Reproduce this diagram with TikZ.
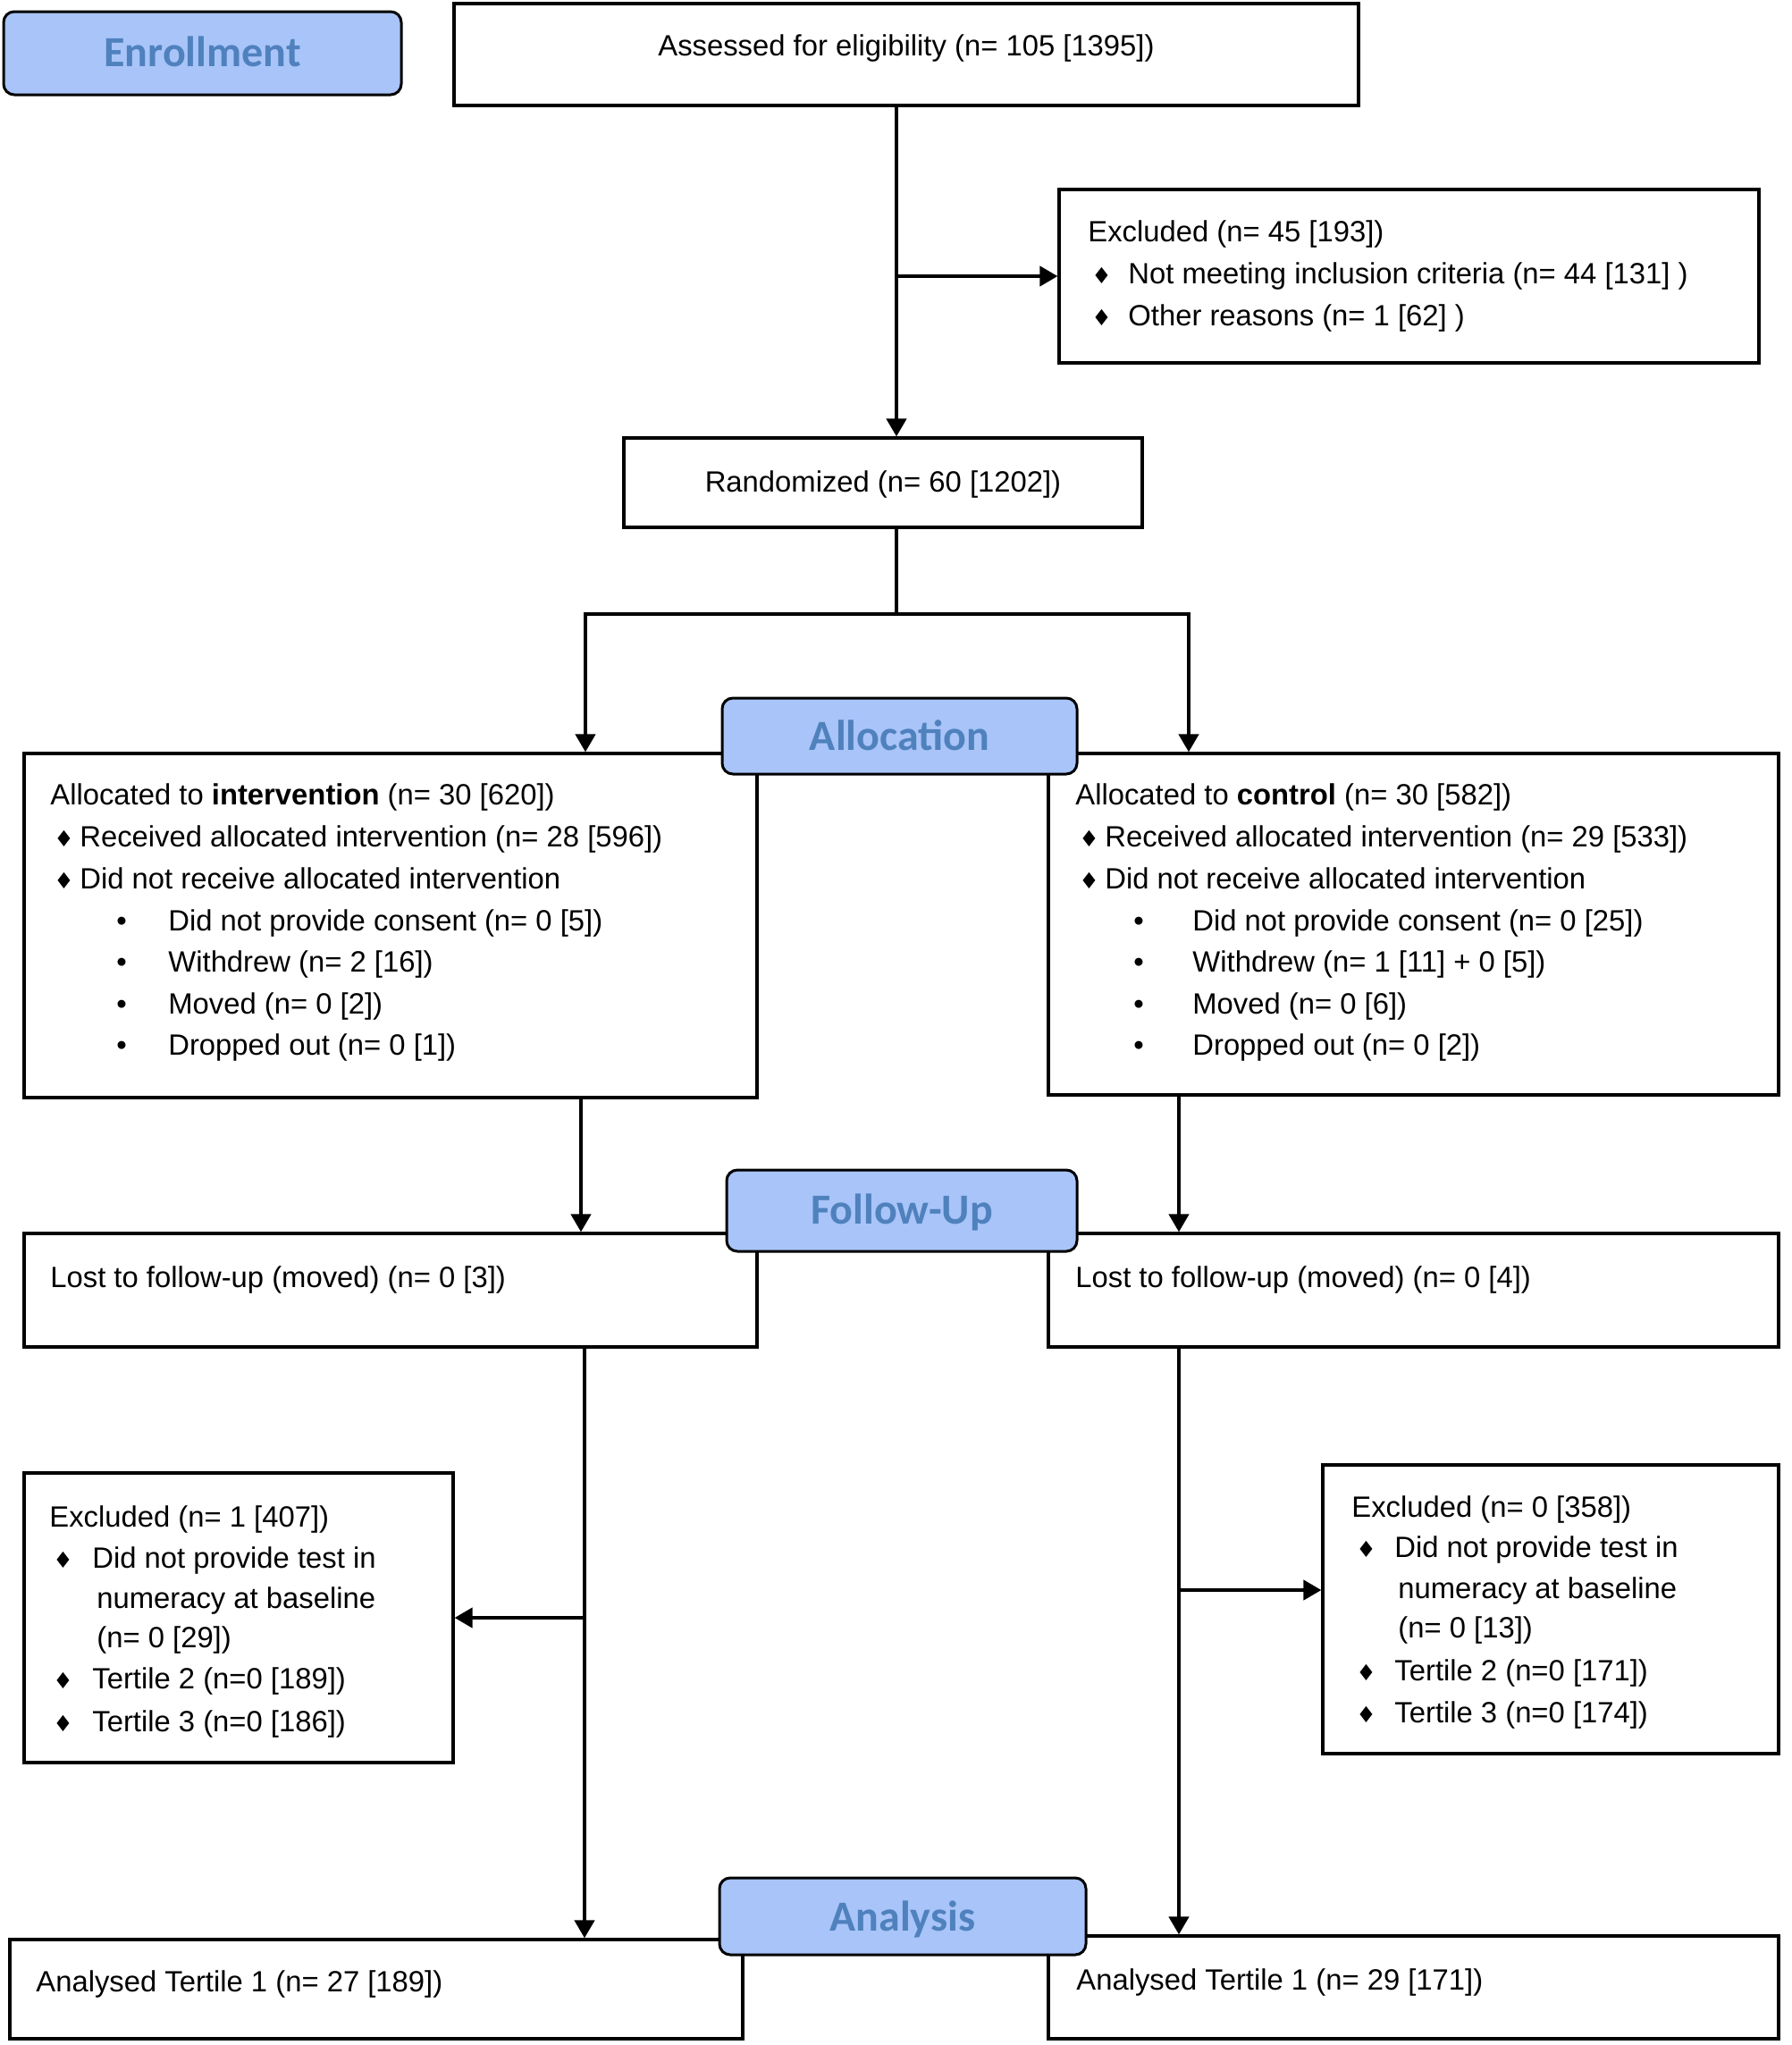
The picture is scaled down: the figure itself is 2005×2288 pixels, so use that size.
\documentclass[tikz,border=0pt]{standalone}
\usepackage{fontspec}
\setmainfont{Liberation Sans}
\newfontfamily\labfont{Carlito}
\newfontfamily\symfont{DejaVu Sans}
\usetikzlibrary{arrows.meta,fit,calc}
\definecolor{labfill}{RGB}{168,196,248}
\definecolor{labtext}{RGB}{79,129,189}
\newcommand\dia{{\symfont\fontsize{12.5}{12.5}\selectfont\char"2666}}
\newcommand\dotb{\char"2022}
\newcommand\dl[2]{\makebox[#1][l]{\dia}#2}
\newcommand\bl[2]{\makebox[#1][l]{\dotb}#2}
\tikzset{
  box/.style={draw=black, line width=1.6pt, inner sep=0pt, fill=white},
  lab/.style={draw=black, line width=1.5pt, rounded corners=6pt, fill=labfill, inner sep=0pt},
  labt/.style={anchor=base, inner sep=0pt, text=labtext, font=\labfont\bfseries\fontsize{24}{28}\selectfont},
  txt/.style={anchor=base west, inner sep=0pt, font=\fontsize{16.4}{20}\selectfont},
  ctxt/.style={anchor=base, inner sep=0pt, font=\fontsize{16.4}{20}\selectfont},
  ln/.style={line width=2.1pt},
  arr/.style={line width=2.1pt, -{Triangle[length=10pt,width=11pt]}},
}
\begin{document}
\begin{tikzpicture}[x=0.5pt,y=-0.5pt]
\useasboundingbox (0,0) rectangle (2005,2288);
% boxes
\node[box, fit={(508,4)(1520,118)}] (assess) {};
\node[box, fit={(1185,212)(1968,406)}] (excl1) {};
\node[box, fit={(698,490)(1278,590)}] (rand) {};
\node[box, fit={(27,843)(847,1228)}] (allocI) {};
\node[box, fit={(1173,843)(1990,1225)}] (allocC) {};
\node[box, fit={(27,1380)(847,1507)}] (fuI) {};
\node[box, fit={(1173,1380)(1990,1507)}] (fuC) {};
\node[box, fit={(27,1648)(507,1972)}] (exclI) {};
\node[box, fit={(1480,1639)(1990,1962)}] (exclC) {};
\node[box, fit={(11,2170)(831,2281)}] (anaI) {};
\node[box, fit={(1173,2166)(1990,2281)}] (anaC) {};
% connectors
\coordinate (xm) at (1003,0);
\coordinate (split) at (1003,687);
\coordinate (lI) at (655,0);
\coordinate (lC) at (1330,0);
\coordinate (vI) at (650,0);
\coordinate (vC) at (1319,0);
\coordinate (wI) at (654,0);
\coordinate (bC) at (1319,1779);
\draw[arr] (assess.south -| xm) -- (rand.north -| xm);
\draw[arr] (excl1.west -| xm) -- (excl1.west);
\draw[ln] (rand.south -| xm) -- (split);
\draw[arr] (split) -| (allocI.north -| lI);
\draw[arr] (split) -| (allocC.north -| lC);
\draw[arr] (allocI.south -| vI) -- (fuI.north -| vI);
\draw[arr] (allocC.south -| vC) -- (fuC.north -| vC);
\draw[arr] (fuI.south -| wI) -- (anaI.north -| wI);
\draw[arr] (fuC.south -| vC) -- (anaC.north -| vC);
\draw[arr] (exclI.east -| wI) -- (exclI.east);
\draw[arr] (bC) -- (exclC.west |- bC);
% phase labels
\node[lab, fit={(4,13)(449,106)}] (enroll) {};
\node[lab, fit={(808,781)(1205,866)}] (labAlloc) {};
\node[lab, fit={(813,1309)(1205,1400)}] (labFU) {};
\node[lab, fit={(805,2101)(1215,2187)}] (labAna) {};
\node[labt] (tEnroll) at ($(enroll.center)+(0,15)$) {Enrollment};
\node[labt] (tAlloc) at ($(labAlloc.center)+(0,16)$) {Allocation};
\node[labt] (tFU) at ($(labFU.center)+(0,15)$) {Follow-Up};
\node[labt] (tAna) at ($(labAna.center)+(0,16)$) {Analysis};
% texts
\node[ctxt] (tAssess) at (1014,62) {Assessed for eligibility (n= 105 [1395])};
\node[txt] (tEx1) at (1217,270) {Excluded (n= 45 [193])};
\node[txt] (tEx2) at (1221,317) {\dl{20.5pt}{Not meeting inclusion criteria (n= 44 [131] )}};
\node[txt] (tEx3) at (1221,364) {\dl{20.5pt}{Other reasons (n= 1 [62] )}};
\node[ctxt] (tRand) at (988,550) {Randomized (n= 60 [1202])};
% allocation intervention
\node[txt] (tI1) at (56,900) {Allocated to \textbf{intervention} (n= 30 [620])};
\node[txt] (tI2) at (60,947) {\dl{14.5pt}{Received allocated intervention (n= 28 [596])}};
\node[txt] (tI3) at (60,994) {\dl{14.5pt}{Did not receive allocated intervention}};
\node[txt] (tI4) at (130,1041) {\bl{29pt}{Did not provide consent (n= 0 [5])}};
\node[txt] (tI5) at (130,1087) {\bl{29pt}{Withdrew (n= 2 [16])}};
\node[txt] (tI6) at (130,1134) {\bl{29pt}{Moved (n= 0 [2])}};
\node[txt] (tI7) at (130,1180) {\bl{29pt}{Dropped out (n= 0 [1])}};
% allocation control
\node[txt] (tC1) at (1203,900) {Allocated to \textbf{control} (n= 30 [582])};
\node[txt] (tC2) at (1207,947) {\dl{14.5pt}{Received allocated intervention (n= 29 [533])}};
\node[txt] (tC3) at (1207,994) {\dl{14.5pt}{Did not receive allocated intervention}};
\node[txt] (tC4) at (1268,1041) {\bl{33pt}{Did not provide consent (n= 0 [25])}};
\node[txt] (tC5) at (1268,1087) {\bl{33pt}{Withdrew (n= 1 [11] + 0 [5])}};
\node[txt] (tC6) at (1268,1134) {\bl{33pt}{Moved (n= 0 [6])}};
\node[txt] (tC7) at (1268,1180) {\bl{33pt}{Dropped out (n= 0 [2])}};
% follow-up
\node[txt] (tF1) at (56,1440) {Lost to follow-up (moved) (n= 0 [3])};
\node[txt] (tF2) at (1203,1440) {Lost to follow-up (moved) (n= 0 [4])};
% excluded intervention
\node[txt] (tX1) at (55,1708) {Excluded (n= 1 [407])};
\node[txt] (tX2) at (59,1754) {\dl{22pt}{Did not provide test in}};
\node[txt] (tX3) at (108,1799) {numeracy at baseline};
\node[txt] (tX4) at (108,1843) {(n= 0 [29])};
\node[txt] (tX5) at (59,1889) {\dl{22pt}{Tertile 2 (n=0 [189])}};
\node[txt] (tX6) at (59,1937) {\dl{22pt}{Tertile 3 (n=0 [186])}};
% excluded control
\node[txt] (tY1) at (1512,1697) {Excluded (n= 0 [358])};
\node[txt] (tY2) at (1517,1742) {\dl{21.5pt}{Did not provide test in}};
\node[txt] (tY3) at (1564,1788) {numeracy at baseline};
\node[txt] (tY4) at (1564,1832) {(n= 0 [13])};
\node[txt] (tY5) at (1517,1880) {\dl{21.5pt}{Tertile 2 (n=0 [171])}};
\node[txt] (tY6) at (1517,1927) {\dl{21.5pt}{Tertile 3 (n=0 [174])}};
% analysis
\node[txt] (tA1) at (40,2228) {Analysed Tertile 1 (n= 27 [189])};
\node[txt] (tA2) at (1204,2226) {Analysed Tertile 1 (n= 29 [171])};
\end{tikzpicture}
\end{document}
